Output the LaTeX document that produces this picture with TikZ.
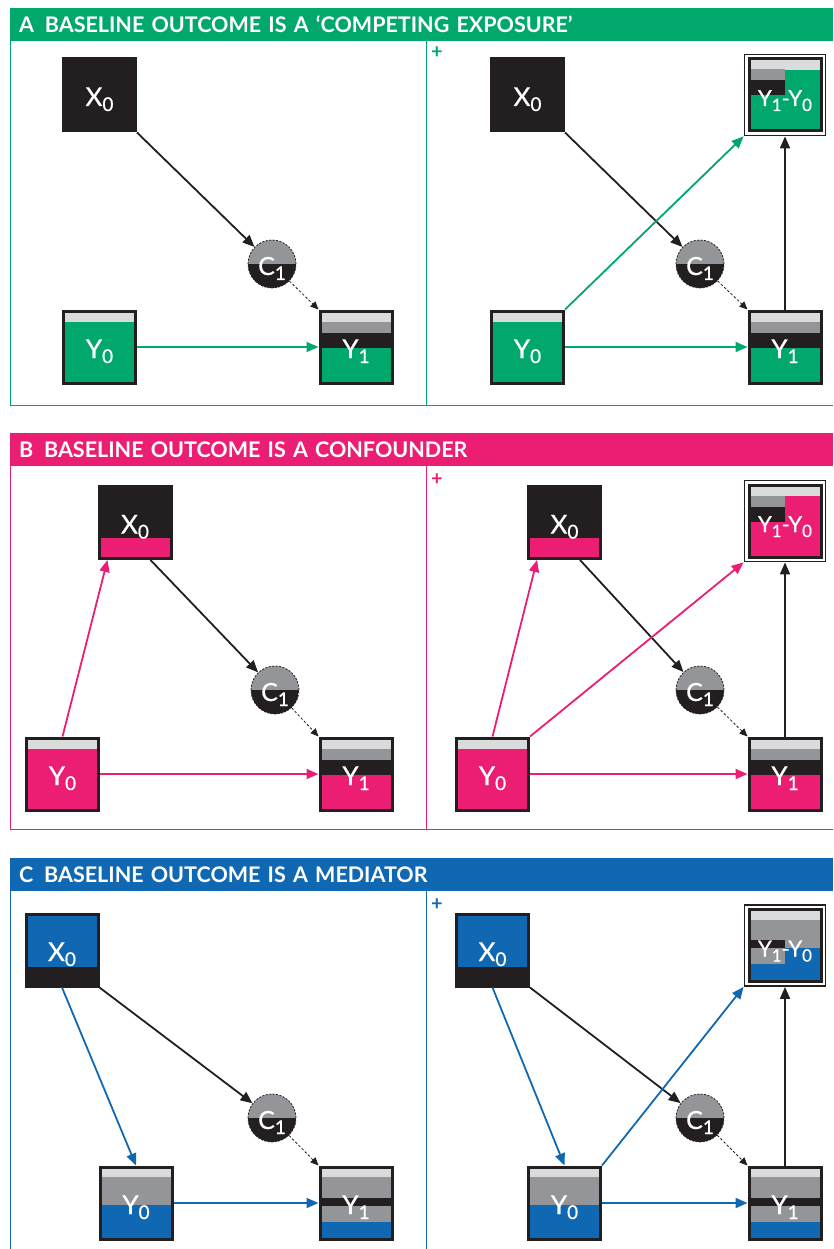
\documentclass[tikz,border=0pt]{standalone}
\usepackage{fontspec}
\setmainfont{Lato}
\newfontfamily\labfont{Lato}[FakeBold=0.6]
\usetikzlibrary{arrows.meta,backgrounds}

\definecolor{agreen}{RGB}{0,168,107}
\definecolor{bpink}{RGB}{236,30,116}
\definecolor{cblue}{RGB}{17,104,178}
\definecolor{ink}{RGB}{35,31,32}
\definecolor{midgrey}{RGB}{147,149,152}
\definecolor{lightgrey}{RGB}{218,219,220}

% labels with a lowered index
\newcommand{\vlab}[2]{#1\raisebox{-5pt}{\fontsize{19}{19}\selectfont #2}}
\newcommand{\slab}[2]{#1\raisebox{-5pt}{\fontsize{17}{17}\selectfont #2}}

% colour bands of the boxes: #1 colour, #2 and #3 left and right edge
\newcommand{\yzeroab}[3]{\fill[lightgrey] (#2,0) rectangle (#3,12.5); \fill[#1] (#2,12.5) rectangle (#3,75);}
\newcommand{\yoneab}[3]{\fill[lightgrey] (#2,0) rectangle (#3,12); \fill[midgrey] (#2,12) rectangle (#3,23);
  \fill[ink] (#2,23) rectangle (#3,38); \fill[#1] (#2,38) rectangle (#3,75);}
\newcommand{\yzeroc}[3]{\fill[lightgrey] (#2,0) rectangle (#3,11.5); \fill[midgrey] (#2,11.5) rectangle (#3,39.5);
  \fill[#1] (#2,39.5) rectangle (#3,75);}
\newcommand{\yonec}[3]{\fill[lightgrey] (#2,0) rectangle (#3,11.5); \fill[midgrey] (#2,11.5) rectangle (#3,32);
  \fill[ink] (#2,32) rectangle (#3,40); \fill[midgrey] (#2,40) rectangle (#3,56); \fill[#1] (#2,56) rectangle (#3,75);}
% put bands behind a named box
\newcommand{\bands}[2]{\begin{pgfonlayer}{background}\begin{scope}[shift={(#1.north west)}]#2\end{scope}\end{pgfonlayer}}

\tikzset{
  head/.style={anchor=north west, minimum width=823pt, minimum height=33pt, inner xsep=9pt, inner ysep=0pt,
    text width=805pt, align=left, text=white, font=\fontsize{21.5}{22}\selectfont\bfseries},
  plus/.style={inner sep=0pt, font=\fontsize{20}{20}\selectfont\bfseries},
  box/.style={draw=ink, line width=3pt, minimum size=72pt, inner sep=0pt, text=white,
    text height=22pt, text depth=0pt, font=\labfont\fontsize{26}{26}\selectfont},
  diff/.style={box, font=\labfont\fontsize{22}{22}\selectfont},
  ring/.style={draw=ink, line width=1.8pt, minimum size=81pt, inner sep=0pt},
  cnode/.style={circle, minimum size=48pt, inner sep=0pt, draw=ink, line width=0.8pt, dash pattern=on 2pt off 1.5pt,
    text=white, text height=22pt, text depth=0pt, font=\labfont\fontsize{25}{25}\selectfont,
    path picture={\fill[midgrey] (path picture bounding box.north west) rectangle (path picture bounding box.east);
      \fill[ink] (path picture bounding box.west) rectangle (path picture bounding box.south east);}},
  link/.style={line width=1.8pt, -{Triangle[length=12pt,width=10pt]}},
  hint/.style={draw=ink, line width=0.8pt, dash pattern=on 2.5pt off 2pt, -{Triangle[length=8pt,width=7pt]}},
}

\begin{document}
\begin{tikzpicture}[x=1pt, y=-1pt]
  \useasboundingbox (0,0) rectangle (833,1249);

  % A
  \node[head, fill=agreen] (ahead) at (10,8) {A\hspace{0.5em}BASELINE OUTCOME IS A ‘COMPETING EXPOSURE’};
  \draw[agreen, line width=1pt] (10,41) -- (10,405) -- (833,405) (426,41) -- (426,405);
  \node[plus, text=agreen] (aplus) at (437,53) {+};

  \node[box, fill=ink] (ax0) at (99.5,95) {\vlab{X}{0}};
  \node[cnode] (ac1) at (272,264) {\vlab{C}{1}};
  \node[box] (ay0) at (99.5,347) {\vlab{Y}{0}};
  \node[box] (ay1) at (356,347) {\vlab{Y}{1}};
  \bands{ay0}{\yzeroab{agreen}{0}{75}}
  \bands{ay1}{\yoneab{agreen}{0}{75}}
  \draw[link, ink] (ax0.south east) -- (ac1);
  \draw[hint] (ac1) -- (ay1.north west);
  \draw[link, agreen] (ay0) -- (ay1);

  \node[box, fill=ink] (arx0) at (527.5,95) {\vlab{X}{0}};
  \node[cnode] (arc1) at (700,264) {\vlab{C}{1}};
  \node[box] (ary0) at (527.5,347) {\vlab{Y}{0}};
  \node[box] (ary1) at (785,347) {\vlab{Y}{1}};
  \node[diff] (ard) at (785,95) {\slab{Y}{1}-\slab{Y}{0}};
  \node[ring] (arring) at (ard) {};
  \bands{ary0}{\yzeroab{agreen}{0}{75}}
  \bands{ary1}{\yoneab{agreen}{0}{75}}
  \bands{ard}{\yoneab{agreen}{0}{37.5}\yzeroab{agreen}{37.5}{75}}
  \draw[link, ink] (arx0.south east) -- (arc1);
  \draw[hint] (arc1) -- (ary1.north west);
  \draw[link, agreen] (ary0) -- (ary1);
  \draw[link, agreen] (ary0.north east) -- (arring.south west);
  \draw[link, ink] (ary1) -- (arring);

  % B
  \node[head, fill=bpink] (bhead) at (10,433) {B\hspace{0.5em}BASELINE OUTCOME IS A CONFOUNDER};
  \draw[bpink, line width=1pt] (10,466) -- (10,829) -- (833,829) (426,466) -- (426,829);
  \node[plus, text=bpink] (bplus) at (437,480) {+};

  \node[box] (bx0) at (135,522.5) {\vlab{X}{0}};
  \node[cnode] (bc1) at (275,690) {\vlab{C}{1}};
  \node[box] (by0) at (62.5,774) {\vlab{Y}{0}};
  \node[box] (by1) at (356,774) {\vlab{Y}{1}};
  \bands{bx0}{\fill[ink] (0,0) rectangle (75,53); \fill[bpink] (0,53) rectangle (75,75);}
  \bands{by0}{\yzeroab{bpink}{0}{75}}
  \bands{by1}{\yoneab{bpink}{0}{75}}
  \draw[link, bpink] (by0.north) -- ([xshift=10pt]bx0.south west);
  \draw[link, ink] ([xshift=-22pt]bx0.south east) -- (bc1);
  \draw[hint] (bc1) -- (by1.north west);
  \draw[link, bpink] (by0) -- (by1);

  \node[box] (brx0) at (564.5,522.5) {\vlab{X}{0}};
  \node[cnode] (brc1) at (700,690) {\vlab{C}{1}};
  \node[box] (bry0) at (492.5,774) {\vlab{Y}{0}};
  \node[box] (bry1) at (785,774) {\vlab{Y}{1}};
  \node[diff] (brd) at (785,521) {\slab{Y}{1}-\slab{Y}{0}};
  \node[ring] (brring) at (brd) {};
  \bands{brx0}{\fill[ink] (0,0) rectangle (75,53); \fill[bpink] (0,53) rectangle (75,75);}
  \bands{bry0}{\yzeroab{bpink}{0}{75}}
  \bands{bry1}{\yoneab{bpink}{0}{75}}
  \bands{brd}{\yoneab{bpink}{0}{37.5}\yzeroab{bpink}{37.5}{75}}
  \draw[link, bpink] (bry0.north) -- ([xshift=10pt]brx0.south west);
  \draw[link, ink] ([xshift=-22pt]brx0.south east) -- (brc1);
  \draw[hint] (brc1) -- (bry1.north west);
  \draw[link, bpink] (bry0) -- (bry1);
  \draw[link, bpink] (bry0.north east) -- (brring.south west);
  \draw[link, ink] (bry1) -- (brring);

  % C
  \node[head, fill=cblue] (chead) at (10,858) {C\hspace{0.5em}BASELINE OUTCOME IS A MEDIATOR};
  \draw[cblue, line width=1pt] (10,891) -- (10,1249) (426,891) -- (426,1249);
  \node[plus, text=cblue] (cplus) at (437,905) {+};

  \node[box] (cx0) at (62,950) {\vlab{X}{0}};
  \node[cnode] (cc1) at (272,1118) {\vlab{C}{1}};
  \node[box] (cy0) at (136,1203) {\vlab{Y}{0}};
  \node[box] (cy1) at (356,1203) {\vlab{Y}{1}};
  \bands{cx0}{\fill[cblue] (0,0) rectangle (75,54); \fill[ink] (0,54) rectangle (75,75);}
  \bands{cy0}{\yzeroc{cblue}{0}{75}}
  \bands{cy1}{\yonec{cblue}{0}{75}}
  \draw[link, cblue] (cx0.south) -- (cy0.north);
  \draw[link, ink] (cx0.south east) -- (cc1);
  \draw[hint] (cc1) -- (cy1.north west);
  \draw[link, cblue] (cy0) -- (cy1);

  \node[box] (crx0) at (492.5,950) {\vlab{X}{0}};
  \node[cnode] (crc1) at (700,1118) {\vlab{C}{1}};
  \node[box] (cry0) at (564.5,1203) {\vlab{Y}{0}};
  \node[box] (cry1) at (785,1203) {\vlab{Y}{1}};
  \node[diff] (crd) at (785,945.5) {\slab{Y}{1}-\slab{Y}{0}};
  \node[ring] (crring) at (crd) {};
  \bands{crx0}{\fill[cblue] (0,0) rectangle (75,54); \fill[ink] (0,54) rectangle (75,75);}
  \bands{cry0}{\yzeroc{cblue}{0}{75}}
  \bands{cry1}{\yonec{cblue}{0}{75}}
  \bands{crd}{\yonec{cblue}{0}{37.5}\yzeroc{cblue}{37.5}{75}}
  \draw[link, cblue] (crx0.south) -- (cry0.north);
  \draw[link, ink] (crx0.south east) -- (crc1);
  \draw[hint] (crc1) -- (cry1.north west);
  \draw[link, cblue] (cry0) -- (cry1);
  \draw[link, cblue] (cry0.north east) -- (crring.south west);
  \draw[link, ink] (cry1) -- (crring);
\end{tikzpicture}
\end{document}
